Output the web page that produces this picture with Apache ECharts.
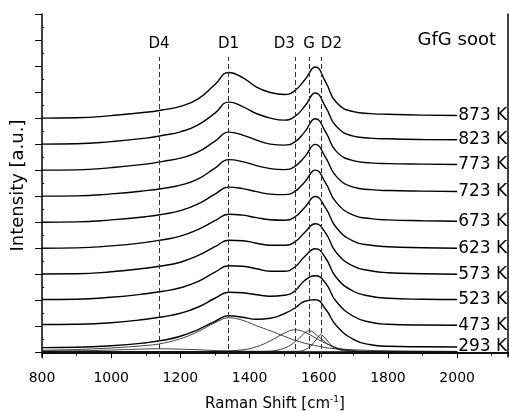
<!DOCTYPE html>
<html>
<head>
<meta charset="utf-8">
<script src="https://cdn.jsdelivr.net/npm/echarts@6/dist/echarts.min.js"></script>
<style>
  html, body { margin: 0; padding: 0; background: #fff; }
  #chart { width: 509px; height: 412px; }
</style>
</head>
<body>
<div id="chart"></div>
<script>
// Raman spectra of GfG soot, stacked by temperature (intensity in a.u.)
const wavenumber = [800, 900, 1000, 1100, 1150, 1200, 1250, 1300, 1340, 1380, 1420, 1460,
  1500, 1530, 1560, 1590, 1620, 1650, 1700, 1750, 1800, 1900, 2000];

const temps = ['293 K', '473 K', '523 K', '573 K', '623 K', '673 K', '723 K', '773 K', '823 K', '873 K'];
const offsets = [0, 26, 52, 78, 104, 130, 156, 182, 208, 234];

const s293 = [4.7, 5, 6.5, 9.5, 12, 16, 22.5, 31, 36.5, 35, 33, 34, 38.5, 44, 51, 52.5, 43, 27, 13, 7.5, 6, 5.5, 5.3];
const s473 = [1.7, 2, 3.5, 7, 9.5, 13, 19, 28, 34, 33.5, 31.5, 30, 31, 35, 46, 50.5, 43, 25, 10, 4, 2, 1.2, 1];
const s523 = [0.7, 1, 3, 6.5, 9, 12.5, 18.5, 28, 34.5, 34, 31.5, 29, 29, 33, 44, 51.5, 42, 23, 9, 4, 2, 1, 0.7];
const s573 = [0.3, 0.5, 2.5, 6, 8.5, 12, 18.5, 27.5, 34, 33.5, 31, 29, 29, 32, 42, 50.5, 41, 22, 8, 3.5, 1.5, 0.5, 0];
const s623 = [0, 0.3, 2.3, 5.8, 8.5, 12, 18.5, 27.5, 34, 33, 30.5, 28.5, 28, 31, 41, 51.6, 40, 21, 7, 3, 1.5, 0.5, 0];
const s673 = [0, 0.3, 2.3, 5.5, 8, 11.5, 18, 28, 35, 33.5, 30.5, 28, 27.5, 30.5, 40.5, 52, 39, 20, 7, 3.5, 2.3, 1.5, 1];
const s723 = [0, 0.3, 2.3, 5.5, 7.8, 11, 17, 28, 36.5, 34.5, 30.5, 27.5, 26.5, 29.5, 39.5, 51.7, 38.5, 20, 9, 6.5, 5.6, 5, 4.7];
const s773 = [0, 0.3, 2.5, 6, 8.8, 12, 18, 29, 38, 35, 30, 26, 25, 28, 38.5, 51.4, 38, 19, 9.5, 7.3, 6.5, 6, 5.7];
const s823 = [0, 0.3, 2.5, 6, 8.8, 12.3, 19, 31, 42, 37.5, 30.5, 26, 24, 27.5, 38, 51, 37, 18, 8, 6, 5.3, 4.6, 4.3];
const s873 = [0, 0.3, 2.5, 5.8, 8.3, 11.7, 19, 33.5, 45.6, 40.5, 31, 25.6, 23.6, 27.3, 38.3, 51, 36, 16, 6.5, 4.5, 3.8, 3, 2.6];
const spectra = [s293, s473, s523, s573, s623, s673, s723, s773, s823, s873];

// fitted bands of the 293 K spectrum
const d4X = [800, 950, 1050, 1138, 1230, 1320, 1420, 1600, 2000];
const d4Y = [1.2, 1.8, 2.8, 3.5, 2.8, 1.5, 0.8, 0.5, 0.5];
const d1X = [800, 900, 1000, 1100, 1138, 1200, 1250, 1300, 1339, 1380, 1420, 1460, 1500, 1545, 1600, 1641, 1700, 1800, 1900, 2000];
const d1Y = [2, 2.8, 4.3, 6.8, 8.3, 13.5, 20.5, 29.5, 34.5, 32, 26.5, 21.5, 16, 10.5, 6, 3.8, 2.5, 1.5, 1.1, 0.9];
const d3X = [800, 1300, 1380, 1420, 1460, 1500, 1531, 1560, 1600, 1640, 1680, 1750, 1850, 2000];
const d3Y = [0.5, 0.8, 2.5, 5.5, 11.5, 19, 22.5, 20, 12.5, 6, 2.5, 0.9, 0.5, 0.5];
const gX = [800, 1450, 1490, 1520, 1545, 1572, 1600, 1625, 1650, 1690, 1750, 2000];
const gY = [0.5, 1, 3, 7.5, 14.5, 21.5, 15.5, 8.5, 4, 1.5, 0.5, 0.5];
const d2X = [800, 1540, 1570, 1590, 1606, 1620, 1640, 1665, 1700, 1750, 2000];
const d2Y = [0.5, 1, 4.5, 11.5, 17.5, 13.5, 6, 2, 0.8, 0.5, 0.5];
const baseX = [800, 2000];
const baseY = [0.5, 0.5];

const bandNames = ['D4', 'D1', 'D3', 'G', 'D2'];
const bandCenters = [1138, 1339, 1531, 1572, 1606];
const bandLabelAlign = ['center', 'center', 'right', 'center', 'left'];
const dashTop = 295;

const yMin = -4.7, yMax = 338;
const yMajor = [0, 26, 52, 78, 104, 130, 156, 182, 208, 234, 260, 286, 312, 338];
const yMinor = [13, 39, 65, 91, 117, 143, 169, 195, 221, 247, 273, 299, 325];

const FONT = 'DejaVu Sans';
const chart = echarts.init(document.getElementById('chart'));

const pairs = (xs, ys) => xs.map((x, i) => [x, ys[i]]);

const spectrumSeries = temps.map((t, k) => ({
  name: t,
  type: 'line',
  data: wavenumber.map((w, i) => [w, spectra[k][i] + offsets[k]]),
  smooth: 0.5,
  symbol: 'none',
  lineStyle: { color: '#000', width: 1.4 },
  endLabel: {
    show: true,
    formatter: t,
    color: '#000',
    fontSize: 17,
    fontFamily: FONT,
    distance: 1
  },
  z: 3
}));

const bandSeries = [
  [d4X, d4Y], [d1X, d1Y], [d3X, d3Y], [gX, gY], [d2X, d2Y], [baseX, baseY]
].map(([xs, ys], i) => ({
  name: 'band' + i,
  type: 'line',
  data: pairs(xs, ys),
  smooth: 0.4,
  symbol: 'none',
  lineStyle: { color: '#111', width: 0.8 },
  z: 2
}));

bandSeries[5].markLine = {
  silent: true,
  symbol: ['none', 'none'],
  lineStyle: { color: '#333', width: 1, type: [5, 3] },
  data: bandCenters.map((c, i) => [
    { coord: [c, yMin] },
    {
      coord: [c, dashTop],
      label: {
        show: true,
        position: 'end',
        formatter: bandNames[i],
        color: '#000',
        fontSize: 15,
        fontFamily: FONT,
        distance: 5,
        align: bandLabelAlign[i]
      }
    }
  ])
};

const option = {
  backgroundColor: '#fff',
  animation: false,
  grid: { left: 42, right: 1, top: 14, bottom: 55, outerBoundsMode: 'none' },
  xAxis: [
    {
      type: 'value',
      min: 800,
      max: 2147,
      interval: 200,
      position: 'bottom',
      name: '{a|Raman Shift [cm}{b|-1}{a|]}',
      nameLocation: 'middle',
      nameGap: 38,
      nameTextStyle: {
        rich: {
          a: { fontSize: 15, color: '#000', fontFamily: FONT },
          b: { fontSize: 9, color: '#000', fontFamily: FONT, padding: [0, 0, 9, 0] }
        }
      },
      axisLine: { show: true, lineStyle: { color: '#000', width: 1.5 } },
      axisTick: { show: true, inside: false, length: 6, lineStyle: { color: '#000', width: 1 } },
      axisLabel: {
        color: '#000', fontSize: 14, fontFamily: FONT, margin: 14,
        showMaxLabel: false,
        formatter: v => String(v)
      },
      splitLine: { show: false }
    },
    {
      type: 'value',
      min: 800,
      max: 2147,
      interval: 100,
      position: 'bottom',
      axisLine: { show: false },
      axisTick: { show: true, inside: false, length: 3, lineStyle: { color: '#000', width: 1 } },
      axisLabel: { show: false },
      splitLine: { show: false }
    },
    {
      type: 'value',
      min: 800,
      max: 2147,
      interval: 100,
      position: 'top',
      axisLine: { show: true, lineStyle: { color: '#000', width: 1.5 } },
      axisTick: { show: true, inside: true, length: 3, lineStyle: { color: '#000', width: 1 } },
      axisLabel: { show: false },
      splitLine: { show: false }
    }
  ],
  yAxis: [
    {
      type: 'value',
      min: yMin,
      max: yMax,
      position: 'left',
      name: 'Intensity [a.u.]',
      nameLocation: 'middle',
      nameGap: 15,
      nameTextStyle: { fontSize: 18, color: '#000', fontFamily: FONT },
      axisLine: { show: true, lineStyle: { color: '#000', width: 1.5 } },
      axisTick: { show: true, inside: false, length: 7, customValues: yMajor, lineStyle: { color: '#000', width: 1 } },
      axisLabel: { show: false },
      splitLine: { show: false }
    },
    {
      type: 'value',
      min: yMin,
      max: yMax,
      position: 'left',
      axisLine: { show: false },
      axisTick: { show: true, inside: true, length: 2, customValues: yMinor, lineStyle: { color: '#000', width: 1 } },
      axisLabel: { show: false },
      splitLine: { show: false }
    },
    {
      type: 'value',
      min: yMin,
      max: yMax,
      position: 'right',
      axisLine: { show: true, lineStyle: { color: '#000', width: 1.5 } },
      axisTick: { show: false },
      axisLabel: { show: false },
      splitLine: { show: false }
    }
  ],
  graphic: [
    {
      type: 'text',
      right: 13,
      top: 31,
      style: { text: 'GfG soot', fontSize: 18, fill: '#000', fontFamily: FONT }
    }
  ],
  series: bandSeries.concat(spectrumSeries)
};

chart.setOption(option);
</script>
</body>
</html>
